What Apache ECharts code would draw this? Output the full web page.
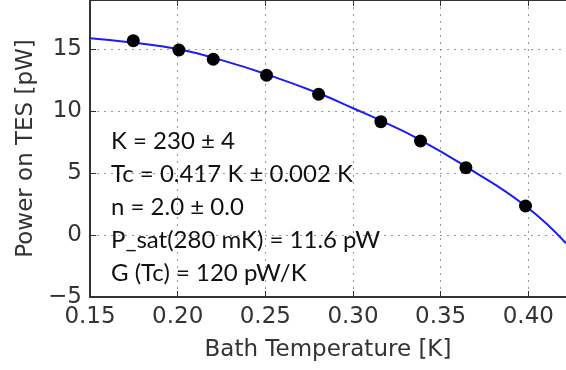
<!DOCTYPE html>
<html><head><meta charset="utf-8">
<script src="https://cdn.jsdelivr.net/npm/echarts@6/dist/echarts.min.js"></script>
<style>html,body{margin:0;padding:0;background:#fff}#c{width:566px;height:370px}</style>
</head><body><div id="c"></div>
<script>
// measured data points
const bathTemp = [0.1747, 0.2007, 0.2203, 0.2507, 0.2804, 0.3159, 0.3385, 0.3644, 0.3984];
const power    = [15.67, 14.92, 14.17, 12.88, 11.35, 9.14, 7.58, 5.43, 2.34];
// fit curve
const fitTemp  = [0.15, 0.175, 0.2007, 0.225, 0.2507, 0.2804, 0.3001, 0.3159, 0.3385, 0.3644, 0.3984, 0.4215];
const fitPower = [15.86, 15.50, 14.98, 14.10, 12.96, 11.43, 10.22, 9.22, 7.66, 5.51, 2.34, -0.67];
const annotation = [
  'K = 230 ± 4',
  'Tc = 0.417 K ± 0.002 K',
  'n = 2.0 ± 0.0',
  'P_sat(280 mK) = 11.6 pW',
  'G (Tc) = 120 pW/K'
];
const xTitle = 'Bath Temperature [K]';
const yTitle = 'Power on TES [pW]';

const chart = echarts.init(document.getElementById('c'), null, {renderer:'canvas'});
const axisColor = '#333';
const font = 'DejaVu Sans';
const gridLine = {show:true, lineStyle:{color:'#999', type:[2,5], width:1}};
chart.setOption({
  animation:false,
  grid:{left:90, right:0, top:0, bottom:73},
  xAxis:[{
    type:'value', min:0.15, max:0.4215, interval:0.05,
    name:xTitle, nameLocation:'middle', nameGap:42,
    nameTextStyle:{fontFamily:font, fontSize:23, color:axisColor},
    axisLine:{show:true, onZero:false, lineStyle:{color:axisColor, width:2}},
    axisTick:{show:true, inside:true, length:6, lineStyle:{color:axisColor, width:1}},
    axisLabel:{fontFamily:font, fontSize:23, color:axisColor, margin:9, showMaxLabel:false,
      formatter:v=>v.toFixed(2)},
    splitLine:gridLine
  },{
    type:'value', position:'top', min:0.15, max:0.4215, interval:0.05,
    axisLine:{show:true, onZero:false, lineStyle:{color:axisColor, width:2}},
    axisTick:{show:true, inside:true, length:6, lineStyle:{color:axisColor, width:1}},
    axisLabel:{show:false}, splitLine:{show:false}
  }],
  yAxis:{
    type:'value', min:-5, max:18.95, interval:5,
    name:yTitle, nameLocation:'middle', nameGap:50,
    nameTextStyle:{fontFamily:font, fontSize:23, color:axisColor},
    axisLine:{show:true, onZero:false, lineStyle:{color:axisColor, width:2}},
    axisTick:{show:true, inside:true, length:6, lineStyle:{color:axisColor, width:1}},
    axisLabel:{fontFamily:font, fontSize:23, color:axisColor, margin:8, showMaxLabel:false,
      formatter:v=>String(v).replace('-', '\u2212')},
    splitLine:gridLine
  },
  series:[{
    type:'line', data:fitTemp.map((t,i)=>[t, fitPower[i]]), smooth:true, showSymbol:false,
    lineStyle:{color:'#1a1aff', width:2}, z:2
  },{
    type:'scatter', data:bathTemp.map((t,i)=>[t, power[i]]), symbolSize:13,
    itemStyle:{color:'#000', opacity:1}, z:3
  }],
  graphic:[{
    type:'text', left:111, top:125, z:10,
    style:{text:annotation.join('\n'), font:'24px Lato', lineHeight:33, fill:'#111'}
  }]
});
</script></body></html>
